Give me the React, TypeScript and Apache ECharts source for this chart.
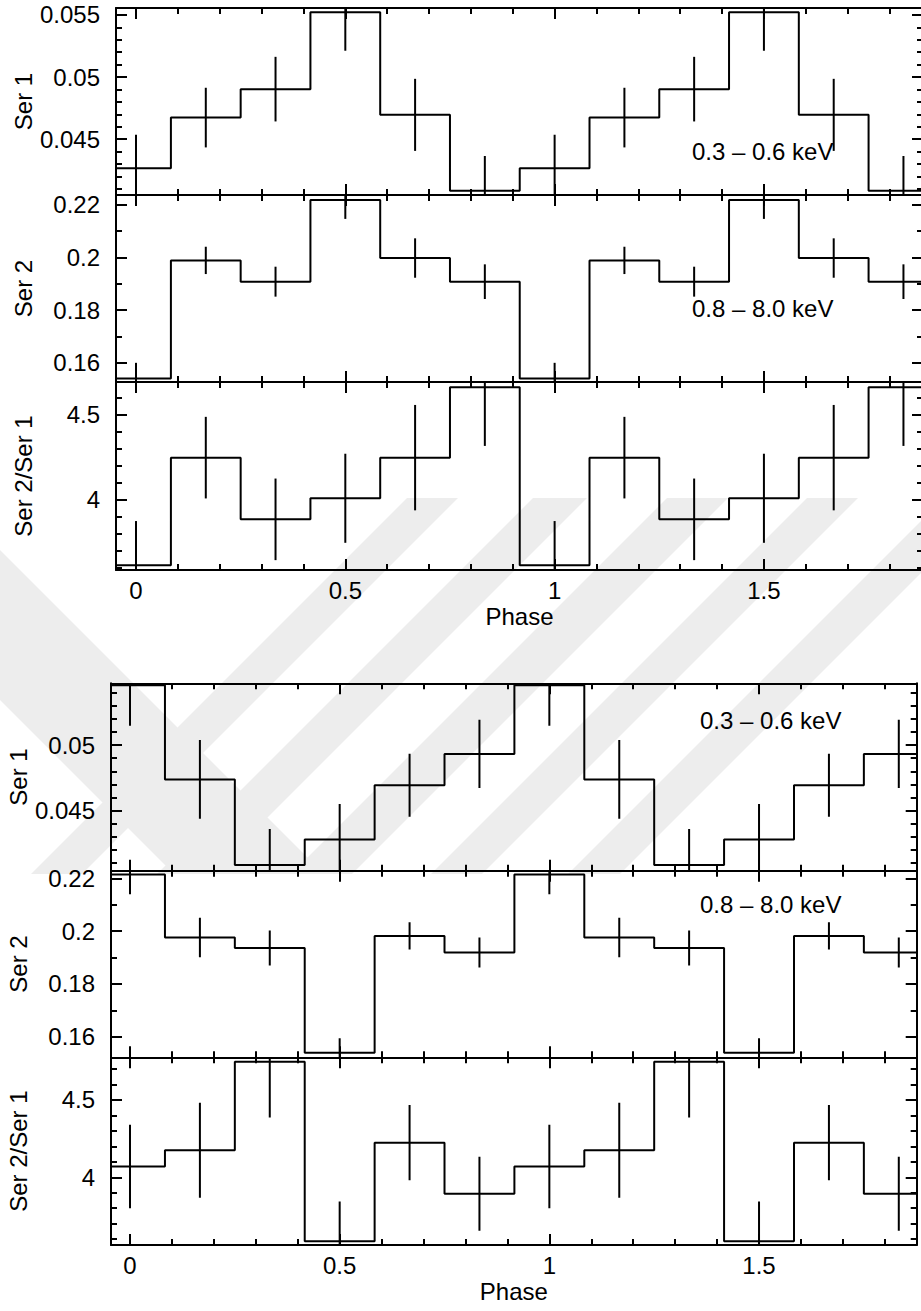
import React, { useEffect, useRef } from "react";
import * as echarts from "echarts";

// ---------- data ----------
const phase = [0, 0.1667, 0.3333, 0.5, 0.6667, 0.8333, 1.0, 1.1667, 1.3333, 1.5, 1.6667, 1.8333];
const halfBin = 0.0833;

// upper figure
const topSer1 = [0.04266, 0.04674, 0.04903, 0.05522, 0.04696, 0.04085, 0.04266, 0.04674, 0.04903, 0.05522, 0.04696, 0.04085];
const topSer1Err = [0.0027, 0.0024, 0.0026, 0.0031, 0.0029, 0.0028, 0.0027, 0.0024, 0.0026, 0.0031, 0.0029, 0.0028];
const topSer2 = [0.1539, 0.1989, 0.1908, 0.2219, 0.1998, 0.1908, 0.1539, 0.1989, 0.1908, 0.2219, 0.1998, 0.1908];
const topSer2Err = [0.006, 0.0052, 0.0057, 0.0072, 0.0075, 0.0066, 0.006, 0.0052, 0.0057, 0.0072, 0.0075, 0.0066];
const topRatio = [3.616, 4.249, 3.886, 4.01, 4.249, 4.663, 3.616, 4.249, 3.886, 4.01, 4.249, 4.663];
const topRatioErr = [0.26, 0.24, 0.24, 0.262, 0.31, 0.345, 0.26, 0.24, 0.24, 0.262, 0.31, 0.345];

// lower figure
const botSer1 = [0.05456, 0.04738, 0.04086, 0.0428, 0.04694, 0.04932, 0.05456, 0.04738, 0.04086, 0.0428, 0.04694, 0.04932];
const botSer1Err = [0.0031, 0.003, 0.00275, 0.0027, 0.0024, 0.0026, 0.0031, 0.003, 0.00275, 0.0027, 0.0024, 0.0026];
const botSer2 = [0.2215, 0.1976, 0.1936, 0.1539, 0.1982, 0.1919, 0.2215, 0.1976, 0.1936, 0.1539, 0.1982, 0.1919];
const botSer2Err = [0.0075, 0.0075, 0.0066, 0.0055, 0.0052, 0.0057, 0.0075, 0.0075, 0.0066, 0.0055, 0.0052, 0.0057];
const botRatio = [4.07, 4.175, 4.747, 3.587, 4.224, 3.893, 4.07, 4.175, 4.747, 3.587, 4.224, 3.893];
const botRatioErr = [0.27, 0.307, 0.36, 0.257, 0.243, 0.239, 0.27, 0.307, 0.36, 0.257, 0.243, 0.239];

const yNames = ["Ser 1", "Ser 2", "Ser 2/Ser 1"];
const bandLabels = ["0.3 – 0.6 keV", "0.8 – 8.0 keV"];
const xName = "Phase";

// ---------- layout ----------
const FONT = "'Liberation Sans', Arial, Helvetica, sans-serif";
const FS = 24;

type Panel = {
  left: number; top: number; width: number; height: number;
  xMin: number; xMax: number;
  yMin: number; yMax: number; yInt: number; yMinor: number;
  values: number[]; errors: number[]; name: string; bottom: boolean;
};

const panels: Panel[] = [
  { left: 116, top: 8, width: 807, height: 187, xMin: -0.0478, xMax: 1.88, yMin: 0.04051, yMax: 0.05556, yInt: 0.005, yMinor: 5, values: topSer1, errors: topSer1Err, name: yNames[0], bottom: false },
  { left: 116, top: 195, width: 807, height: 187, xMin: -0.0478, xMax: 1.88, yMin: 0.1526, yMax: 0.2238, yInt: 0.02, yMinor: 2, values: topSer2, errors: topSer2Err, name: yNames[1], bottom: false },
  { left: 116, top: 382, width: 807, height: 188, xMin: -0.0478, xMax: 1.88, yMin: 3.588, yMax: 4.694, yInt: 0.5, yMinor: 5, values: topRatio, errors: topRatioErr, name: yNames[2], bottom: true },
  { left: 111, top: 683.3, width: 805.7, height: 187.4, xMin: -0.0453, xMax: 1.876, yMin: 0.04043, yMax: 0.0547, yInt: 0.005, yMinor: 5, values: botSer1, errors: botSer1Err, name: yNames[0], bottom: false },
  { left: 111, top: 870.7, width: 805.7, height: 186.6, xMin: -0.0453, xMax: 1.876, yMin: 0.1522, yMax: 0.2229, yInt: 0.02, yMinor: 2, values: botSer2, errors: botSer2Err, name: yNames[1], bottom: false },
  { left: 111, top: 1057.3, width: 805.7, height: 187.7, xMin: -0.0453, xMax: 1.876, yMin: 3.562, yMax: 4.776, yInt: 0.5, yMinor: 5, values: botRatio, errors: botRatioErr, name: yNames[2], bottom: true },
];

const lineStyle = { color: "#000", width: 2 };

// faint background watermark (decoration only)
const WM = "#ededed";
const stripeTops = [[407, 458], [533, 587], [667, 728], [807, 858], [944, 996]];
function watermark() {
  const yTop = 498, yBot = 874, d = yBot - yTop;
  const els: any[] = stripeTops.map(([a, b]) => ({
    type: "polygon", z: -10, silent: true,
    shape: { points: [[a, yTop], [b, yTop], [b - d, yBot], [a - d, yBot]] },
    style: { fill: WM },
  }));
  els.push({
    type: "polygon", z: -10, silent: true,
    shape: { points: [[0, 550], [324, 874], [174, 874], [0, 700]] },
    style: { fill: WM },
  });
  return els;
}

function buildOption() {
  const grid: any[] = [];
  const xAxis: any[] = [];
  const yAxis: any[] = [];
  const series: any[] = [];

  panels.forEach((p, g) => {
    grid.push({ left: p.left, top: p.top, width: p.width, height: p.height, show: false, containLabel: false, outerBoundsMode: "none" });
    const xBase = (pos: string, labels: boolean) => ({
      gridIndex: g, type: "value", position: pos, min: p.xMin, max: p.xMax,
      splitNumber: 4, minInterval: 0.5, maxInterval: 0.5,
      axisLine: { show: true, onZero: false, lineStyle },
      axisTick: { show: true, inside: true, length: 11, lineStyle },
      minorTick: { show: true, splitNumber: 5, length: 6, lineStyle },
      splitLine: { show: false }, minorSplitLine: { show: false },
      axisLabel: { show: labels, showMinLabel: false, showMaxLabel: false, margin: 8, fontSize: FS, color: "#000", fontFamily: FONT },
      name: labels ? xName : "", nameLocation: "middle", nameGap: 34, nameMoveOverlap: false,
      nameTextStyle: { fontSize: FS, color: "#000", fontFamily: FONT },
    });
    xAxis.push(xBase("bottom", p.bottom));
    xAxis.push(xBase("top", false));
    const yBase = (pos: string, labels: boolean) => ({
      gridIndex: g, type: "value", position: pos, min: p.yMin, max: p.yMax,
      minInterval: p.yInt, maxInterval: p.yInt,
      axisLine: { show: true, onZero: false, lineStyle },
      axisTick: { show: true, inside: true, length: 11, lineStyle },
      minorTick: { show: true, splitNumber: p.yMinor, length: 6, lineStyle },
      splitLine: { show: false }, minorSplitLine: { show: false },
      axisLabel: { show: labels, showMinLabel: false, showMaxLabel: false, margin: 16, fontSize: FS, color: "#000", fontFamily: FONT },
      name: labels ? p.name : "", nameLocation: "middle", nameGap: 81, nameMoveOverlap: false,
      nameTextStyle: { fontSize: FS, color: "#000", fontFamily: FONT },
    });
    yAxis.push(yBase("left", true));
    yAxis.push(yBase("right", false));

    const n = phase.length;
    const stepData: number[][] = [[phase[0] - halfBin, p.values[0]]];
    phase.forEach((x, i) => stepData.push([x, p.values[i]]));
    stepData.push([phase[n - 1] + halfBin, p.values[n - 1]]);

    series.push({
      type: "line", xAxisIndex: 2 * g, yAxisIndex: 2 * g, step: "middle",
      data: stepData, showSymbol: false, symbol: "none", clip: true,
      lineStyle: { color: "#000", width: 2 }, silent: true,
    });

    series.push({
      type: "custom", xAxisIndex: 2 * g, yAxisIndex: 2 * g, clip: true, silent: true,
      data: phase.map((x, i) => [x, p.values[i] - p.errors[i], p.values[i] + p.errors[i]]),
      renderItem: (params: any, api: any) => {
        const x = api.value(0);
        const a = api.coord([x, api.value(1)]);
        const b = api.coord([x, api.value(2)]);
        const cs = params.coordSys;
        const y1 = Math.max(cs.y, Math.min(a[1], b[1]));
        const y2 = Math.min(cs.y + cs.height, Math.max(a[1], b[1]));
        if (a[0] < cs.x || a[0] > cs.x + cs.width) return null;
        return {
          type: "line",
          shape: { x1: a[0], y1, x2: a[0], y2 },
          style: { stroke: "#000", lineWidth: 2 },
        };
      },
    });
  });

  const graphic = [
    ...watermark(),
    { type: "text", x: 692, y: 151, style: { text: bandLabels[0], fontSize: FS, fontFamily: FONT, fill: "#000", verticalAlign: "middle" } },
    { type: "text", x: 692, y: 308, style: { text: bandLabels[1], fontSize: FS, fontFamily: FONT, fill: "#000", verticalAlign: "middle" } },
    { type: "text", x: 700, y: 720, style: { text: bandLabels[0], fontSize: FS, fontFamily: FONT, fill: "#000", verticalAlign: "middle" } },
    { type: "text", x: 700, y: 904, style: { text: bandLabels[1], fontSize: FS, fontFamily: FONT, fill: "#000", verticalAlign: "middle" } },
  ];

  return {
    animation: false,
    backgroundColor: "#fff",
    textStyle: { fontFamily: FONT },
    grid, xAxis, yAxis, series, graphic,
  };
}

export default function App() {
  const ref = useRef<HTMLDivElement>(null);
  useEffect(() => {
    document.body.style.margin = "0";
    if (!ref.current) return;
    const chart = echarts.init(ref.current, undefined, { renderer: "svg" });
    chart.setOption(buildOption() as any);
    return () => chart.dispose();
  }, []);
  return <div ref={ref} style={{ width: 921, height: 1311 }} />;
}
